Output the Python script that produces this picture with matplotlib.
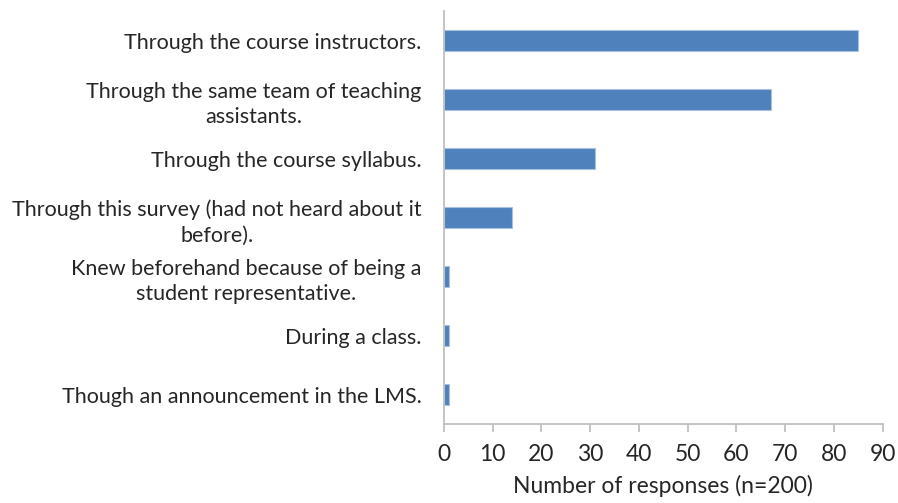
import numpy as np
import matplotlib.pyplot as plt

plt.rcParams['font.family'] = ['Lato', 'DejaVu Sans']

categories = [
    "Through the course instructors.",
    "Through the same team of teaching\nassistants.",
    "Through the course syllabus.",
    "Through this survey (had not heard about it\nbefore).",
    "Knew beforehand because of being a\nstudent representative.",
    "During a class.",
    "Though an announcement in the LMS.",
]
responses = [85, 67, 31, 14, 1, 1, 1]
xticks = [0, 10, 20, 30, 40, 50, 60, 70, 80, 90]

fig = plt.figure(figsize=(8.98, 5.03), dpi=100)
ax = fig.add_axes([0.4944, 0.1565, 0.4886, 0.8215])

y = np.arange(len(categories))[::-1]
ax.barh(y, responses, height=0.35, color='#4F81BD', edgecolor='#A9C1E0', linewidth=0.8)

ax.set_xlim(0, 90)
ax.set_ylim(-0.5, len(categories) - 0.5)
ax.set_xticks(xticks)
ax.set_yticks(y)
ax.set_yticklabels(categories, multialignment='center', linespacing=1.35)

grey = '#BFBFBF'
ax.spines['right'].set_color('none')
ax.spines['top'].set_color('none')
ax.spines['left'].set_color(grey)
ax.spines['bottom'].set_color(grey)
ax.spines['left'].set_linewidth(1.3)
ax.spines['bottom'].set_linewidth(1.3)
ax.tick_params(axis='x', colors=grey, length=6, width=1.3, labelcolor='#262626',
               labelsize=16.5, pad=8)
ax.tick_params(axis='y', length=0, labelcolor='#262626', labelsize=15.5, pad=16)

ax.set_xlabel("Number of responses (n=200)", fontsize=16.5, color='#262626', labelpad=7)

fig.savefig('out.png', dpi=100)
